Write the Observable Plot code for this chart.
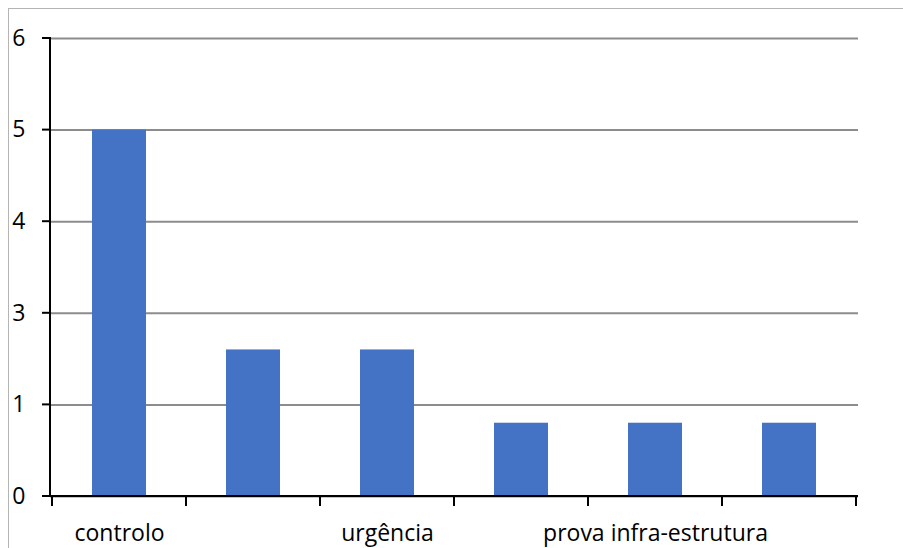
<!DOCTYPE html>
<html><head><meta charset="utf-8">
<script src="https://cdn.jsdelivr.net/npm/d3@7"></script>
<script src="https://cdn.jsdelivr.net/npm/@observablehq/plot@0.6"></script>
<style>
html,body{margin:0;padding:0;background:#fff;overflow:hidden;}
#wrap{position:relative;width:903px;height:548px;overflow:hidden;}
#border{position:absolute;left:8px;top:8px;width:1000px;height:1000px;border:1px solid #b4b4b4;}
#chart{position:absolute;left:0;top:0;}
</style></head><body>
<div id="wrap"><div id="border"></div><div id="chart"></div></div>
<script>
// Category labels (Excel shows only every other label)
const categories = ["controlo", "", "urgência", "", "prova infra-estrutura", ""];
const values = [5, 2.2, 2.2, 0.8, 0.8, 0.8];
const yTicks = [0, 1, 3, 4, 5, 6];
const yTickLabels = ["0", "1", "3", "4", "5", "6"];

const data = values.map((v, i) => ({i, label: categories[i], v}));

function axisLines(index, scales, vals, dims) {
  const {x, y} = scales;
  const g = d3.create("svg:g").attr("stroke", "#000").attr("stroke-width", 2).attr("fill", "none");
  const x0 = dims.marginLeft, x1 = dims.width - dims.marginRight;
  const y0 = y(0), yTop = y(d3.max(yTicks));
  g.append("line").attr("x1", x0).attr("x2", x0).attr("y1", y0 + 1).attr("y2", yTop - 1);
  g.append("line").attr("x1", x0 - 8).attr("x2", x1).attr("y1", y0).attr("y2", y0);
  for (const t of yTicks) {
    g.append("line").attr("x1", x0 - 8).attr("x2", x0).attr("y1", y(t)).attr("y2", y(t));
  }
  const bw = x.bandwidth ? x.bandwidth() : 0;
  const step = x.step ? x.step() : (x1 - x0) / categories.length;
  const dom = d3.range(categories.length);
  const bounds = dom.map(i => x(i) + bw / 2 - step / 2);
  bounds.push(x(dom[dom.length - 1]) + bw / 2 + step / 2);
  for (const b of bounds) {
    g.append("line").attr("x1", b).attr("x2", b).attr("y1", y0).attr("y2", y0 + 10);
  }
  return g.node();
}

const plot = Plot.plot({
  width: 903,
  height: 548,
  marginLeft: 50,
  marginRight: 45,
  marginTop: 38,
  marginBottom: 52,
  style: {fontFamily: "'Open Sans', sans-serif", fontSize: "23px", color: "#000", background: "transparent"},
  x: {type: "band", domain: d3.range(categories.length), paddingInner: 0.6, paddingOuter: 0.3},
  y: {type: "linear", domain: yTicks},
  marks: [
    Plot.gridY(yTicks, {stroke: "#8c8c8c", strokeOpacity: 1, strokeWidth: 2}),
    Plot.barY(data, {x: "i", y: "v", fill: "#4472C4"}),
    axisLines,
    Plot.axisX({tickSize: 0, tickPadding: 28, tickFormat: i => categories[i], label: null, fontSize: 23}),
    Plot.axisY(yTicks, {tickSize: 0, tickPadding: 25, tickFormat: d => yTickLabels[yTicks.indexOf(d)], label: null, fontSize: 23})
  ]
});
document.getElementById("chart").appendChild(plot);
</script>
</body></html>
